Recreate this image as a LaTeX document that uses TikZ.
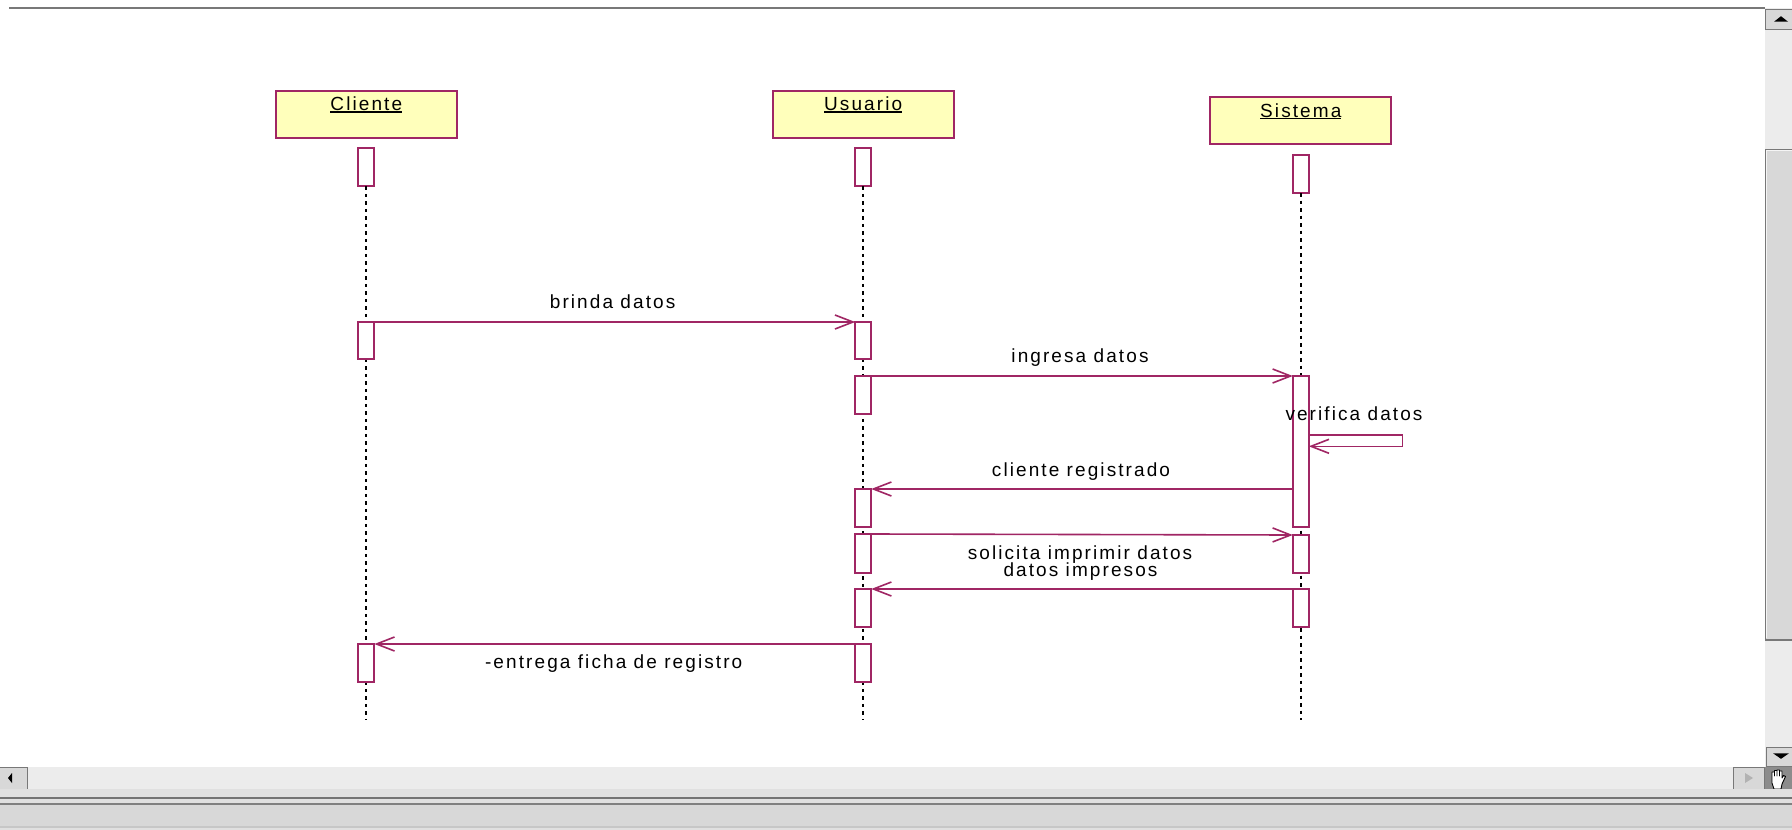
\documentclass[tikz,border=0pt]{standalone}
\usepackage{fontspec}
\setmainfont{Liberation Sans}[LetterSpace=11]
\usetikzlibrary{arrows.meta}

\definecolor{umlline}{RGB}{160,38,100}
\definecolor{objfill}{RGB}{255,255,187}
\definecolor{chromefill}{RGB}{216,216,216}
\definecolor{trackfill}{RGB}{236,236,236}
\definecolor{chromedark}{RGB}{120,120,120}
\definecolor{chromelight}{RGB}{245,245,245}

% underlined object name with a rule close to the baseline
\newcommand{\objname}[1]{\setbox0\hbox{#1}\rlap{\rule[-1.6pt]{\wd0}{1.4pt}}\box0}

\begin{document}
\begin{tikzpicture}[x=1pt,y=-1pt,
  objbox/.style={draw=umlline, fill=objfill, line width=1.7pt,
    minimum width=181pt, minimum height=47pt, inner sep=0pt},
  objlabel/.style={anchor=base, yshift=-21pt, inner sep=0pt,
    font=\fontsize{19}{20}\selectfont, text=black},
  actbox/.style={draw=umlline, fill=white, line width=1.7pt,
    minimum width=16pt, inner sep=0pt, outer sep=0pt, anchor=north},
  lifeline/.style={black, line width=2pt, dash pattern=on 3.5pt off 4pt},
  msg/.style={draw=umlline, line width=1.6pt,
    -{Straight Barb[length=18pt,width=14pt]}},
  msgtext/.style={anchor=base, inner sep=0pt,
    font=\fontsize{19}{20}\selectfont, text=black},
  btn/.style={fill=chromefill, draw=chromedark, line width=0.8pt},
]
\useasboundingbox (0,0) rectangle (1792,830);
\fill[white] (0,0) rectangle (1792,830);

% ---------- window frame ----------
\draw[chromedark, line width=1.6pt] (9,8) -- (1765,8);

% vertical scrollbar
\fill[trackfill] (1765,8) rectangle (1792,767);
\draw[btn] (1765,9) rectangle (1792,29);
\fill[black] (1774,21.7) -- (1788,21.7) -- (1781,16.2) -- cycle;
\draw[btn] (1765,149) rectangle (1792,640);
\draw[chromelight, line width=1.2pt] (1766.5,638) -- (1766.5,150.5) -- (1792,150.5);
\draw[chromedark, line width=1.6pt] (1765,640) -- (1792,640);
\draw[btn] (1766,747) rectangle (1792,766);
\fill[black] (1773,753.3) -- (1789,753.3) -- (1781,758.8) -- cycle;

% horizontal scrollbar
\fill[trackfill] (0,767) rectangle (1765,789);
\draw[btn] (-1,767) rectangle (27,789);
\fill[black] (8,778) -- (12,773) -- (12,783) -- cycle;
\draw[btn] (1733,767) rectangle (1764,789);
\fill[black!30] (1753,778) -- (1745,773) -- (1745,783) -- cycle;
\fill[black!45] (1765,767) rectangle (1792,789);
% hand cursor
\draw[fill=white, line width=0.9pt, line join=round]
  (1772,778) -- (1772,772) -- (1774.5,772) -- (1774.5,776) -- (1774.5,770.5)
  -- (1777,770.5) -- (1777,776) -- (1777,770) -- (1779.5,770) -- (1779.5,776)
  -- (1779.5,771) -- (1782,771) -- (1782,778) -- (1783.5,775.5) -- (1785.5,776.5)
  -- (1782,784) -- (1781,789) -- (1774,789) -- (1772,783) -- cycle;

% status strip
\fill[black!12] (0,789) rectangle (1792,830);
\draw[black!55, line width=2pt] (0,797.5) -- (1792,797.5);
\draw[black!50, line width=1.6pt] (0,804) -- (1792,804);
\fill[chromefill] (0,805) rectangle (1792,826);
\draw[black!22, line width=1.2pt] (0,827) -- (1792,827);

% ---------- objects ----------
\node[objbox, label={[objlabel]north:\objname{Cliente}}] (cl) at (366.3,114.3) {};
\node[objbox, label={[objlabel]north:\objname{Usuario}}] (us) at (863.2,114.3) {};
\node[objbox, label={[objlabel]north:\objname{Sistema}}] (si) at (1300.8,120.8) {};

% first activations, right under each object
\node[actbox, minimum height=38pt] (c1) at (cl.south |- 0,148.3) {};
\node[actbox, minimum height=38pt] (u1) at (us.south |- 0,148.3) {};
\node[actbox, minimum height=38pt] (s1) at (si.south |- 0,155) {};

% ---------- lifelines ----------
\coordinate (clend) at (cl.south |- 0,720);
\coordinate (usend) at (us.south |- 0,720);
\coordinate (siend) at (si.south |- 0,720);
\draw[lifeline] (c1.south) -- (clend);
\draw[lifeline] (u1.south) -- (usend);
\draw[lifeline] (s1.south) -- (siend);

% ---------- later activations, over the lifelines ----------
\node[actbox, minimum height=37pt] (c2) at (cl.south |- 0,322) {};
\node[actbox, minimum height=38pt] (c3) at (cl.south |- 0,644) {};

\node[actbox, minimum height=37pt] (u2) at (us.south |- 0,322) {};
\node[actbox, minimum height=38pt] (u3) at (us.south |- 0,376) {};
\node[actbox, minimum height=38pt] (u4) at (us.south |- 0,489) {};
\node[actbox, minimum height=39pt] (u5) at (us.south |- 0,534) {};
\node[actbox, minimum height=38pt] (u6) at (us.south |- 0,589) {};
\node[actbox, minimum height=38pt] (u7) at (us.south |- 0,644) {};

\node[actbox, minimum height=151pt] (s2) at (si.south |- 0,376) {};
\node[actbox, minimum height=38pt] (s3) at (si.south |- 0,535) {};
\node[actbox, minimum height=38pt] (s4) at (si.south |- 0,589) {};

% ---------- messages ----------
\draw[msg] (c2.north east) -- (u2.north west);
\node[msgtext] (m1) at (612.6,308) {brinda datos};

\draw[msg] (u3.north east) -- (s2.north west);
\node[msgtext] (m2) at (1080,362) {ingresa datos};

\draw[msg] (s2.east |- 0,434.7) -- ++(93.5,0) -- ++(0,11.6) -- (s2.east |- 0,446.3);
\node[msgtext] (m3) at (1354,420.5) {verifica datos};

\draw[msg] (s2.west |- u4.north) -- (u4.north east);
\node[msgtext] (m4) at (1081,476) {cliente registrado};

\draw[msg] (u5.north east) -- (s3.north west);
\node[msgtext] (m5) at (1080,559.5) {solicita imprimir datos};

\draw[msg] (s4.north west) -- (u6.north east);
\node[msgtext] (m6) at (1080.5,576) {datos impresos};

\draw[msg] (u7.north west) -- (c3.north east);
\node[msgtext] (m7) at (613.7,668) {-entrega ficha de registro};
\end{tikzpicture}
\end{document}
